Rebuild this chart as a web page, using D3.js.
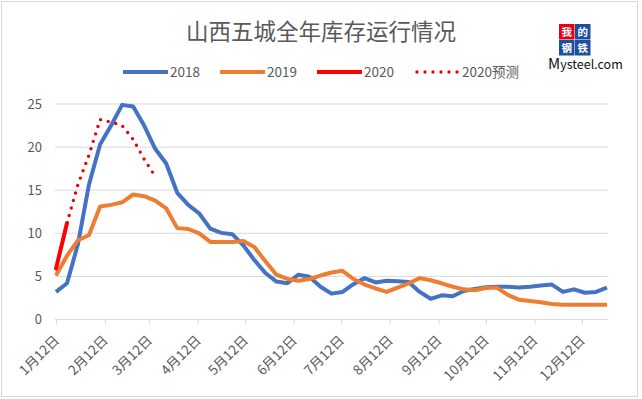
<!DOCTYPE html>
<html><head><meta charset="utf-8">
<script src="https://cdn.jsdelivr.net/npm/d3@7"></script>
<style>
html,body{margin:0;padding:0;background:#fff;}
svg text{font-family:"Noto Sans CJK SC","Noto Sans",sans-serif;}
</style></head>
<body><svg id="c" width="642" height="399"></svg>
<script>
const title = "山西五城全年库存运行情况";
const weekDates = ["01-12","01-19","01-26","02-02","02-09","02-16","02-23","03-02","03-09","03-16","03-23","03-30",
"04-06","04-13","04-20","04-27","05-04","05-11","05-18","05-25","06-01","06-08","06-15","06-22","06-29",
"07-06","07-13","07-20","07-27","08-03","08-10","08-17","08-24","08-31","09-07","09-14","09-21","09-28",
"10-05","10-12","10-19","10-26","11-02","11-09","11-16","11-23","11-30","12-07","12-14","12-21","12-28"];
const s2018 = [3.2,4.2,8.8,15.7,20.3,22.5,24.9,24.7,22.5,19.8,18.1,14.7,13.3,12.3,10.55,10.05,9.9,8.6,6.9,5.4,4.4,4.2,5.2,4.95,3.8,
3.0,3.2,4.1,4.8,4.3,4.5,4.45,4.35,3.2,2.4,2.8,2.7,3.3,3.55,3.75,3.8,3.8,3.7,3.8,3.95,4.05,3.2,3.5,3.1,3.2,3.7];
const s2019 = [5.1,7.4,9.2,9.8,13.1,13.3,13.6,14.5,14.3,13.8,12.9,10.6,10.5,10.0,9.0,9.0,9.0,9.1,8.4,6.75,5.2,4.7,4.5,4.7,5.1,
5.45,5.65,4.7,4.05,3.6,3.2,3.7,4.2,4.8,4.55,4.2,3.8,3.5,3.4,3.65,3.7,2.85,2.3,2.15,2.0,1.8,1.7,1.7,1.7,1.7,1.7];
const s2020 = [5.9,11.2];
const s2020f = [null,11.2,15.7,19.1,23.2,22.9,22.5,20.9,18.6,16.6];
const yTicks = [0,5,10,15,20,25];
const xTickLabels = ["1月12日","2月12日","3月12日","4月12日","5月12日","6月12日","7月12日","8月12日","9月12日","10月12日","11月12日","12月12日"];
const seriesNames = ["2018","2019","2020","2020预测"];

const year = 2019;
const parseD = d3.timeParse("%Y-%m-%d");
const dates = weekDates.map(d => parseD(year + "-" + d));
const tickDates = d3.range(12).map(m => new Date(year, m, 12));

const svg = d3.select("#c");
svg.append("rect").attr("x",1.5).attr("y",1.5).attr("width",636).attr("height",395)
  .attr("fill","#fff").attr("stroke","#d9d9d9").attr("stroke-width",1);

const x = d3.scaleTime().domain([dates[0], dates[dates.length-1]]).range([56, 607]);
const y = d3.scaleLinear().domain([0,25]).range([319.5, 104]);

// grid
svg.append("g").selectAll("line").data(yTicks.filter(t=>t>0)).join("line")
  .attr("x1",55).attr("x2",608).attr("y1",d=>y(d)).attr("y2",d=>y(d))
  .attr("stroke","#d9d9d9").attr("stroke-width",1);

// y labels
svg.append("g").selectAll("text").data(yTicks).join("text")
  .attr("x",42).attr("y",d=>y(d)).attr("dy","0.35em").attr("text-anchor","end")
  .attr("font-size",13).attr("fill","#595959").text(d=>d);

// x axis
const xAxis = d3.axisBottom(x).tickValues(tickDates).tickSize(5).tickFormat((d,i)=>xTickLabels[i]);
const gx = svg.append("g").attr("transform","translate(0,319.5)").call(xAxis);
gx.select(".domain").attr("stroke","#d9d9d9").attr("d","M55,0H608");
gx.selectAll(".tick line").attr("stroke","#d9d9d9");
gx.selectAll(".tick text").attr("font-size",13.5).attr("fill","#595959")
  .attr("text-anchor","end").attr("dy",null).attr("y",null)
  .attr("transform","translate(1,19) rotate(-45)").attr("dominant-baseline","middle");

const line = d3.line().defined(d=>d[1]!=null).x(d=>x(d[0])).y(d=>y(d[1]));
const mk = arr => arr.map((v,i)=>[dates[i], v]);

const plot = svg.append("g");
plot.append("path").attr("d", line(mk(s2018))).attr("fill","none").attr("stroke","#4472C4").attr("stroke-width",4).attr("stroke-linejoin","round");
plot.append("path").attr("d", line(mk(s2019))).attr("fill","none").attr("stroke","#ED7D31").attr("stroke-width",4).attr("stroke-linejoin","round");
plot.append("path").attr("d", line(mk(s2020f))).attr("fill","none").attr("stroke","#E8000B").attr("stroke-width",3.4)
  .attr("stroke-dasharray","0 7.8").attr("stroke-dashoffset",-7.8).attr("stroke-linecap","round");
plot.append("path").attr("d", line(mk(s2020))).attr("fill","none").attr("stroke","#FF0000").attr("stroke-width",4).attr("stroke-linecap","round");

// title
svg.append("text").attr("x",321).attr("y",32).attr("dy","0.35em").attr("text-anchor","middle")
  .attr("font-size",22.5).attr("fill","#595959").text(title);

// legend
const legX = [123, 220, 317, 415];
const legStyles = [
  {c:"#4472C4", w:4, dash:null},
  {c:"#ED7D31", w:4, dash:null},
  {c:"#FF0000", w:4, dash:null},
  {c:"#E8000B", w:3.4, dash:"0 8"}];
const lg = svg.append("g").selectAll("g").data(seriesNames).join("g")
  .attr("transform",(d,i)=>`translate(${legX[i]},72)`);
lg.append("line").attr("x1",(d,i)=>i==3?2:0).attr("x2",45).attr("y1",0).attr("y2",0)
  .attr("stroke",(d,i)=>legStyles[i].c).attr("stroke-width",(d,i)=>legStyles[i].w)
  .attr("stroke-dasharray",(d,i)=>legStyles[i].dash).attr("stroke-linecap",(d,i)=>i==3?"round":"butt");
lg.append("text").attr("x",47).attr("y",0).attr("dy","0.35em").attr("font-size",13.5).attr("fill","#595959").text(d=>d);

// logo
const logo = svg.append("g").attr("transform","translate(559,24)");
const cells = [["我","#E60012",0,0],["的","#1E4E9E",16,0],["钢","#1E4E9E",0,16],["铁","#1E4E9E",16,16]];
logo.selectAll("rect").data(cells).join("rect").attr("x",d=>d[2]).attr("y",d=>d[3]).attr("width",15.5).attr("height",15.5).attr("fill",d=>d[1]);
logo.selectAll("text.c").data(cells).join("text").attr("class","c").attr("x",d=>d[2]+7.75).attr("y",d=>d[3]+7.75)
  .attr("dy","0.36em").attr("text-anchor","middle").attr("font-size",10.5).attr("font-weight","bold").attr("fill","#fff").text(d=>d[0]);
const lt = svg.append("text").attr("x",548).attr("y",69).attr("fill","#111").attr("font-family","Liberation Sans, Arial, sans-serif");
lt.append("tspan").attr("font-size",15).text("M");
lt.append("tspan").attr("font-size",12.5).text("ysteel.com");
</script></body></html>
